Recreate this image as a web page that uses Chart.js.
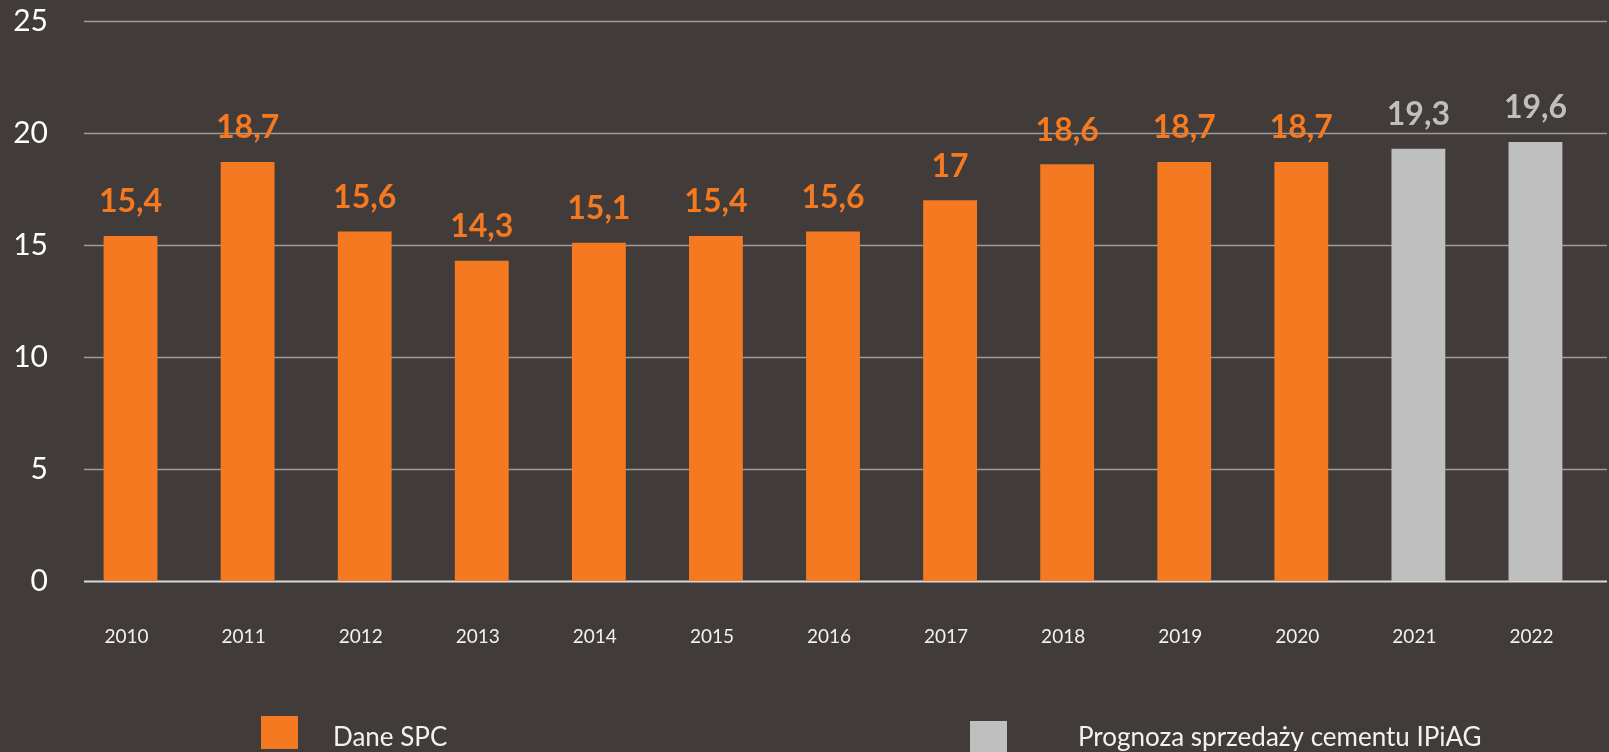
<!DOCTYPE html>
<html lang="pl">
<head>
<meta charset="utf-8">
<title>Sprzedaż cementu</title>
<script src="https://cdn.jsdelivr.net/npm/chart.js@4/dist/chart.umd.min.js"></script>
<style>
    html, body {
        margin: 0;
        padding: 0;
        background: #413b39;
        overflow: hidden;
    }
    #contenedorGrafico {
        width: 1609px;
        height: 752px;
    }
</style>
</head>
<body>
<div id="contenedorGrafico">
    <canvas id="graficoCemento"></canvas>
</div>
<script>
const anios = ['2010', '2011', '2012', '2013', '2014', '2015', '2016', '2017', '2018', '2019', '2020', '2021', '2022'];
const daneSPC = [15.4, 18.7, 15.6, 14.3, 15.1, 15.4, 15.6, 17, 18.6, 18.7, 18.7, null, null];
const prognozaIPiAG = [null, null, null, null, null, null, null, null, null, null, null, 19.3, 19.6];
const ticksEjeY = [0, 5, 10, 15, 20, 25];

const colorNaranja = '#f47920';
const colorGris = '#bfbfbf';
const fuente = 'Lato, "Open Sans", sans-serif';

// lineas horizontales: en el original empiezan un poco a la derecha del eje
// y llegan hasta el borde, por eso no uso el grid del eje Y
const pluginLineas = {
    id: 'lineasHorizontales',
    beforeDatasetsDraw(chart) {
        const ctx = chart.ctx;
        const escalaY = chart.scales.y;
        ctx.save();
        escalaY.ticks.forEach(t => {
            const y = Math.round(escalaY.getPixelForValue(t.value)) + 0.5;
            ctx.beginPath();
            ctx.strokeStyle = t.value === 0 ? '#d9d9d9' : '#a09b98';
            ctx.lineWidth = t.value === 0 ? 2 : 1.5;
            ctx.moveTo(84, y);
            ctx.lineTo(1607, y);
            ctx.stroke();
        });
        ctx.restore();
    }
};

// etiquetas encima de cada barra (15,4 etc.)
const pluginEtiquetas = {
    id: 'etiquetasValores',
    afterDatasetsDraw(chart) {
        const ctx = chart.ctx;
        ctx.save();
        ctx.font = 'bold 32px ' + fuente;
        ctx.textAlign = 'center';
        ctx.textBaseline = 'middle';
        chart.data.datasets.forEach((ds, i) => {
            const meta = chart.getDatasetMeta(i);
            meta.data.forEach((barra, j) => {
                const valor = ds.data[j];
                if (valor === null || valor === undefined) return;
                ctx.fillStyle = ds.backgroundColor;
                ctx.fillText(String(valor).replace('.', ','), barra.x, barra.y - 34);
            });
        });
        ctx.restore();
    }
};

// leyenda abajo, dos elementos separados
const pluginLeyenda = {
    id: 'leyendaAbajo',
    afterDraw(chart) {
        const ctx = chart.ctx;
        const items = [
            { cuadro: [261, 716, 37, 33], textoX: 333, base: 746 },
            { cuadro: [970, 721, 37, 31], textoX: 1078, base: 746 }
        ];
        ctx.save();
        ctx.font = '26px ' + fuente;
        ctx.textBaseline = 'alphabetic';
        ctx.textAlign = 'left';
        items.forEach((it, i) => {
            const ds = chart.data.datasets[i];
            ctx.fillStyle = ds.backgroundColor;
            ctx.fillRect(it.cuadro[0], it.cuadro[1], it.cuadro[2], it.cuadro[3]);
            ctx.fillStyle = '#f2f2f2';
            ctx.fillText(ds.label, it.textoX, it.base);
        });
        ctx.restore();
    }
};

function inicioGraficoCemento() {
    const ctx = document.getElementById('graficoCemento').getContext('2d');
    new Chart(ctx, {
        type: 'bar',
        data: {
            labels: anios,
            datasets: [{
                label: 'Dane SPC',
                backgroundColor: colorNaranja,
                data: daneSPC
            }, {
                label: 'Prognoza sprzedaży cementu IPiAG',
                backgroundColor: colorGris,
                data: prognozaIPiAG
            }]
        },
        options: {
            responsive: true,
            maintainAspectRatio: false,
            animation: false,
            layout: {
                padding: { top: 21, right: 15, bottom: 0, left: 0 }
            },
            datasets: {
                bar: {
                    grouped: false,
                    categoryPercentage: 1,
                    barPercentage: 0.46
                }
            },
            scales: {
                x: {
                    grid: { display: false, drawTicks: false },
                    border: { display: false },
                    ticks: {
                        color: '#f2f2f2',
                        font: { family: fuente, size: 19 },
                        padding: 44,
                        labelOffset: -4,
                        maxRotation: 0
                    },
                    afterFit: (escala) => {
                        escala.height = 171;
                        escala.paddingLeft = 0;
                        escala.paddingRight = 0;
                    }
                },
                y: {
                    min: 0,
                    max: 25,
                    afterBuildTicks: (escala) => {
                        escala.ticks = ticksEjeY.map(v => ({ value: v }));
                    },
                    grid: { display: false, drawTicks: false },
                    border: { display: false },
                    ticks: {
                        color: '#ffffff',
                        font: { family: fuente, size: 30 },
                        padding: 24
                    },
                    afterFit: (escala) => {
                        escala.width = 72;
                        escala.paddingTop = 0;
                        escala.paddingBottom = 0;
                    }
                }
            },
            plugins: {
                legend: { display: false },
                tooltip: { enabled: false }
            }
        },
        plugins: [pluginLineas, pluginEtiquetas, pluginLeyenda]
    });
}

inicioGraficoCemento();
</script>
</body>
</html>
